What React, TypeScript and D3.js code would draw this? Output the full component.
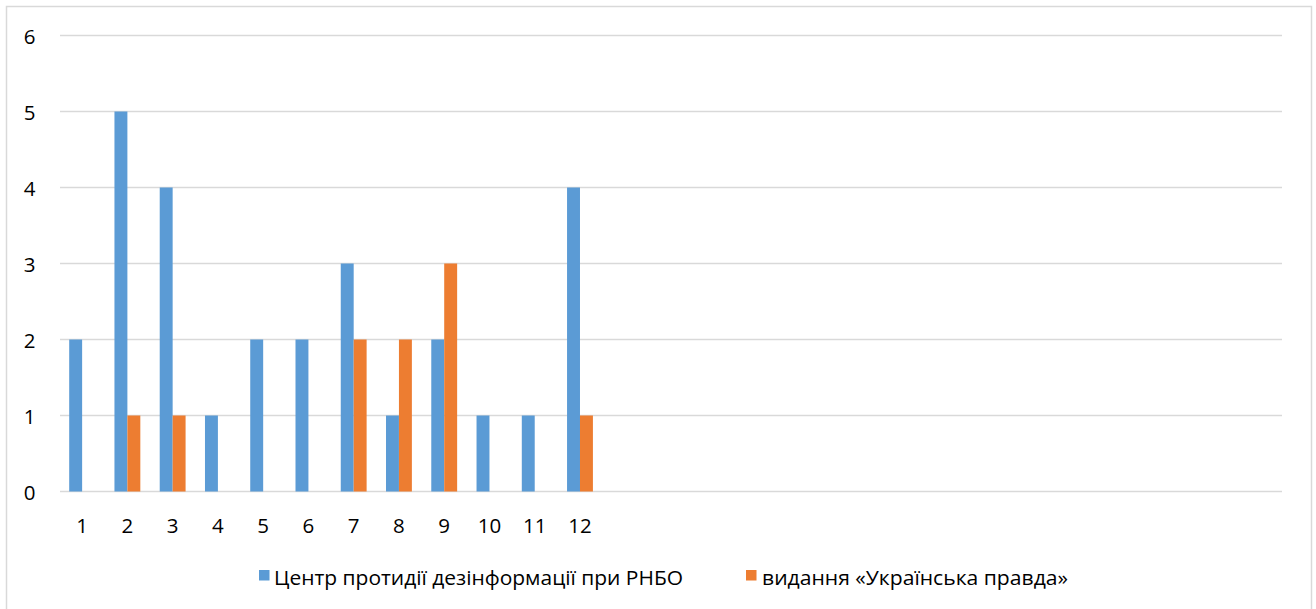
import React from "react";
import * as d3 from "d3";

const categoryLabels: string[] = ["1", "2", "3", "4", "5", "6", "7", "8", "9", "10", "11", "12",
  "", "", "", "", "", "", "", "", "", "", "", "", "", "", ""];
const seriesNames: string[] = ["Центр протидії дезінформації при РНБО", "видання «Українська правда»"];
const seriesA: (number | null)[] = [2, 5, 4, 1, 2, 2, 3, 1, 2, 1, 1, 4];
const seriesB: (number | null)[] = [0, 1, 1, 0, 0, 0, 2, 2, 3, 0, 0, 1];
const yTicks: number[] = [0, 1, 2, 3, 4, 5, 6];
const colors: string[] = ["#5B9BD5", "#ED7D31"];

const W = 1316;
const H = 609;
const FONT = "'Open Sans', 'Noto Sans', sans-serif";

export default function App() {
  const x = d3
    .scaleBand<number>()
    .domain(d3.range(categoryLabels.length))
    .range([59.5, 1281.5])
    .paddingInner(0)
    .paddingOuter(0);
  const y = d3.scaleLinear().domain([0, 6]).range([491.5, 35.5]);
  const bw = x.bandwidth() / 3.5;
  const series = [seriesA, seriesB];

  return (
    <div style={{ position: "absolute", left: 0, top: 0 }}>
      <svg width={W} height={H} style={{ display: "block", background: "#fff" }}>
        <rect x={6.5} y={6.5} width={1305} height={H + 20} fill="#fff" stroke="#d9d9d9" strokeWidth={1.5} />
        {yTicks.map((t) => (
          <g key={t}>
            <line x1={60} x2={1282} y1={y(t)} y2={y(t)} stroke="#d9d9d9" strokeWidth={1.6} />
            <text x={35.5} y={y(t)} textAnchor="end" dominantBaseline="central" fontFamily={FONT} fontSize={20.5} fill="#000">
              {t}
            </text>
          </g>
        ))}
        {series.map((s, si) =>
          s.map((v, i) =>
            v == null || v === 0 ? null : (
              <rect
                key={`${si}-${i}`}
                x={(x(i) as number) + x.bandwidth() / 2 - bw + si * bw}
                y={y(v)}
                width={bw}
                height={y(0) - y(v)}
                fill={colors[si]}
              />
            )
          )
        )}
        {categoryLabels.map((l, i) =>
          l ? (
            <text key={i} x={(x(i) as number) + x.bandwidth() / 2} y={525} textAnchor="middle" dominantBaseline="central" fontFamily={FONT} fontSize={20.5} fill="#000">
              {l}
            </text>
          ) : null
        )}
        <g>
          <rect x={259} y={570} width={10.5} height={10.5} fill={colors[0]} />
          <text x={274} y={577} dominantBaseline="central" fontFamily={FONT} fontSize={20} fill="#000" textLength={409} lengthAdjust="spacingAndGlyphs">
            {seriesNames[0]}
          </text>
          <rect x={746} y={570} width={10.5} height={10.5} fill={colors[1]} />
          <text x={762} y={577} dominantBaseline="central" fontFamily={FONT} fontSize={20} fill="#000" textLength={306} lengthAdjust="spacingAndGlyphs">
            {seriesNames[1]}
          </text>
        </g>
      </svg>
    </div>
  );
}
